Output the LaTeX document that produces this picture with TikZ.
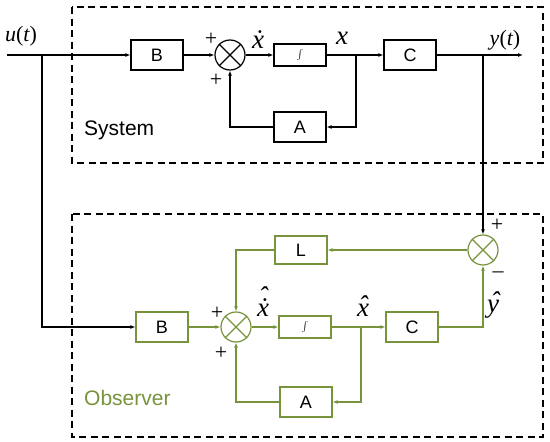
\documentclass[tikz,border=0pt]{standalone}
\usepackage{fontspec}
\setmainfont{Liberation Sans}
\newfontfamily\tms{Liberation Serif}
\usetikzlibrary{arrows.meta}
\definecolor{obsgreen}{RGB}{119,147,60}
\newcommand{\mi}[1]{{\tms\itshape #1}}
\newcommand{\mr}[1]{{\tms #1}}
\newcommand{\xhatdot}{{\tms\itshape\ooalign{\.{x}\cr\hidewidth\raisebox{0.42em}{ˆ}\hidewidth\cr}}}
\newcommand{\xhatonly}{{\tms\itshape\ooalign{x\cr\hidewidth\raisebox{0.05em}{ˆ}\hidewidth\cr}}}
\newcommand{\yhatonly}{{\tms\itshape\ooalign{y\cr\hidewidth\kern0.15em\raisebox{0.05em}{ˆ}\hidewidth\cr}}}
\begin{document}
\begin{tikzpicture}[x=1pt,y=-1pt,
  blk/.style={draw,line width=1.2pt,minimum width=52pt,minimum height=30pt,inner sep=0pt,font=\fontsize{18}{18}\selectfont},
  intblk/.style={blk,minimum height=22pt,font=\fontsize{14}{14}\selectfont},
  sumj/.style={draw,circle,line width=1.2pt,minimum size=30pt,inner sep=0pt},
  conn/.style={line width=1.2pt},
  arr/.style={conn,-{Latex[length=5pt,width=4pt]}},
  frame/.style={line width=1.3pt,dash pattern=on 7pt off 4.5pt},
  sgn/.style={font=\fontsize{22}{22}\selectfont\tms,inner sep=0pt},
  mlab/.style={font=\fontsize{22}{22}\selectfont,inner sep=0pt},
  xlab/.style={font=\fontsize{27}{27}\selectfont,inner sep=0pt},
  grp/.style={font=\fontsize{21}{21}\selectfont,inner sep=0pt}
]
\useasboundingbox (0,0) rectangle (550,442);
% frames
\draw[frame] (72,7) rectangle (543,163);
\draw[frame] (72,214) rectangle (543,437);
% ---------------- System ----------------
\node[blk] (B1) at (157,55) {B};
\node[sumj] (S1) at (230,55) {};
\draw[conn] (S1.north east) -- (S1.south west) (S1.north west) -- (S1.south east);
\node[intblk] (I1) at (300,55) {$\int$};
\node[blk] (C1) at (410,55) {C};
\node[blk] (A1) at (300,127) {A};
\coordinate (uin) at (7,55);
\coordinate (ub) at (42,55);
\coordinate (xb) at (356,55);
\coordinate (yb) at (483,55);
\coordinate (yout) at (523,55);
\draw[arr] (uin) -- (B1.west);
\draw[arr] (B1.east) -- (S1.west);
\draw[arr] (S1.east) -- (I1.west);
\draw[arr] (I1.east) -- (C1.west);
\draw[arr] (C1.east) -- (yout);
\draw[arr] (xb) |- (A1.east);
\draw[arr] (A1.west) -| (S1.south);
\node[mlab] (lu) at (21,36) {\mi{u}\mr{(}\mi{t}\mr{)}};
\node[sgn] (p1) at (211,39) {+};
\node[sgn] (p2) at (216,80) {+};
\node[xlab] (lxd) at (258,40) {\mi{\.{x}}};
\node[xlab] (lx) at (342,38) {\mi{x}};
\node[mlab] (ly) at (505,40) {\mi{y}\mr{(}\mi{t}\mr{)}};
\node[grp,anchor=west] (sys) at (84,130) {System};
% ---------------- Observer ----------------
\begin{scope}[obsgreen]
\node[blk,text=black] (B2) at (162,327) {B};
\node[sumj] (S2) at (236,327) {};
\draw[conn] (S2.north east) -- (S2.south west) (S2.north west) -- (S2.south east);
\node[intblk,text=black] (I2) at (305,327) {$\int$};
\node[blk,text=black] (C2) at (412,327) {C};
\node[blk,text=black] (A2) at (306,402) {A};
\node[blk,text=black,minimum height=28pt] (L) at (301,250) {L};
\node[sumj] (S3) at (483,250) {};
\draw[conn] (S3.north east) -- (S3.south west) (S3.north west) -- (S3.south east);
\coordinate (xhb) at (361,327);
\draw[arr] (B2.east) -- (S2.west);
\draw[arr] (S2.east) -- (I2.west);
\draw[arr] (I2.east) -- (C2.west);
\draw[arr] (C2.east) -| (S3.south);
\draw[arr] (S3.west) -- (L.east);
\draw[arr] (L.west) -| (S2.north);
\draw[arr] (xhb) |- (A2.east);
\draw[arr] (A2.west) -| (S2.south);
\node[grp,anchor=west] (obs) at (84,398) {Observer};
\end{scope}
\draw[arr] (ub) |- (B2.west);
\draw[arr] (yb) -- (S3.north);
\node[sgn] (p3) at (217,313) {+};
\node[sgn] (p4) at (221,353) {+};
\node[sgn] (p5) at (497,225) {+};
\node[sgn] (m1) at (498,275) {\textendash};
\node[xlab] (lxhd) at (263,308) {\xhatdot};
\node[xlab] (lxh) at (363,310) {\xhatonly};
\node[xlab] (lyh) at (493,306) {\yhatonly};
\end{tikzpicture}
\end{document}
